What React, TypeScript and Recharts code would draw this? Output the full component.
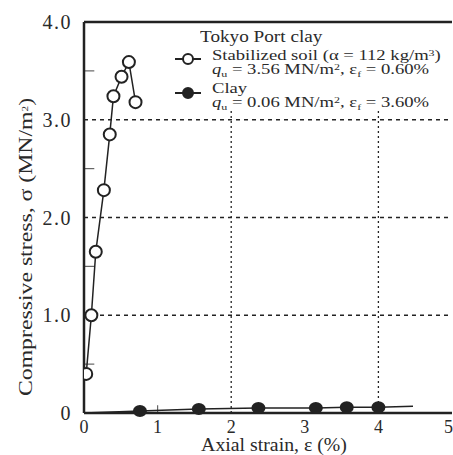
import { LineChart, Line, XAxis, YAxis, CartesianGrid, ReferenceLine } from "recharts";

// Stabilized soil (open circles)
const soilStrain = [0.03, 0.1, 0.16, 0.27, 0.35, 0.4, 0.51, 0.61, 0.7];
const soilStress = [0.4, 1.0, 1.65, 2.28, 2.85, 3.24, 3.44, 3.59, 3.18];

// Clay (filled circles); first and last points are line ends, no marker
const clayStrain = [0.0, 0.76, 1.56, 2.37, 3.15, 3.57, 4.0, 4.47];
const clayStress = [0.0, 0.02, 0.04, 0.05, 0.05, 0.06, 0.06, 0.07];

const xTicks = [0, 1, 2, 3, 4, 5];
const yTicks = [0, 1, 2, 3, 4];
const minorY = [0.5, 1.5, 2.5, 3.5];

const soilData = soilStrain.map((x, i) => ({ x, y: soilStress[i] }));
const clayData = clayStrain.map((x, i) => ({ x, y: clayStress[i] }));

const INK = "#222";
const TXT = "#2a2a2a";
const FONT = "'Liberation Serif', 'DejaVu Serif', serif";

const OpenDot = (p: any) => (
  <circle key={`o-${p.index}`} cx={p.cx} cy={p.cy} r={6} fill="#fff" stroke={INK} strokeWidth={2} />
);

const FilledDot = (p: any) =>
  p.index === 0 || p.index === clayData.length - 1 ? (
    <g key={`f-${p.index}`} />
  ) : (
    <ellipse key={`f-${p.index}`} cx={p.cx} cy={p.cy} rx={7} ry={6} fill={INK} />
  );

const LegendSymbol = ({ filled }: { filled: boolean }) => (
  <svg width={28} height={14} style={{ display: "block" }}>
    <line x1={1} y1={7} x2={27} y2={7} stroke={INK} strokeWidth={2} />
    <circle cx={14} cy={7} r={5} fill={filled ? INK : "#fff"} stroke={INK} strokeWidth={2} />
  </svg>
);

// super/subscripts that do not stretch the line box
const Sup = ({ children }: { children: any }) => (
  <span style={{ fontSize: 9, position: "relative", top: -4, lineHeight: 0 }}>{children}</span>
);
const Sub = ({ children }: { children: any }) => (
  <span style={{ fontSize: 9, position: "relative", top: 3, lineHeight: 0 }}>{children}</span>
);

const legendText = {
  position: "absolute" as const,
  left: 212,
  fontSize: 14,
  lineHeight: "14px",
  color: TXT,
  whiteSpace: "nowrap" as const,
  transform: "scaleX(1.33)",
  transformOrigin: "left center",
};

export default function App() {
  return (
    <div style={{ position: "absolute", left: 0, top: 0, width: 453, height: 455, background: "#fff", fontFamily: FONT, overflow: "hidden" }}>
      <LineChart width={453} height={455} margin={{ top: 22, right: 1, left: 0, bottom: 0 }}>
        <CartesianGrid horizontal={false} vertical={false} />
        <XAxis
          type="number"
          dataKey="x"
          domain={[0, 5]}
          ticks={xTicks}
          height={42}
          axisLine={{ stroke: INK, strokeWidth: 2.5 }}
          tickLine={false}
          tick={{ fill: TXT, fontSize: 18, fontFamily: FONT }}
          tickMargin={1}
          allowDataOverflow
        />
        <YAxis
          type="number"
          dataKey="y"
          domain={[0, 4]}
          ticks={yTicks}
          width={84}
          axisLine={{ stroke: INK, strokeWidth: 2.5 }}
          tickLine={false}
          tick={{ fill: TXT, fontSize: 20, fontFamily: FONT, letterSpacing: 1.5 }}
          tickMargin={6}
          tickFormatter={(v: number) => (v === 0 ? "0" : v.toFixed(1))}
        />
        {[1, 2, 3].map((v) => (
          <ReferenceLine key={`h${v}`} y={v} stroke={INK} strokeWidth={1.3} strokeDasharray="4 4" />
        ))}
        {[2, 4].map((v) => (
          <ReferenceLine
            key={`v${v}`}
            segment={[{ x: v, y: 0 }, { x: v, y: 3.1 }]}
            stroke={INK}
            strokeWidth={1.3}
            strokeDasharray="2 3"
          />
        ))}
        {minorY.map((v) => (
          <ReferenceLine key={`m${v}`} segment={[{ x: 0, y: v }, { x: 0.14, y: v }]} stroke="#666" strokeWidth={1.2} />
        ))}
        <ReferenceLine segment={[{ x: 1, y: 0 }, { x: 1, y: 0.08 }]} stroke="#666" strokeWidth={1.2} />
        <ReferenceLine y={4} stroke={INK} strokeWidth={2.5} />
        <Line
          data={soilData}
          dataKey="y"
          type="linear"
          stroke={INK}
          strokeWidth={1.5}
          dot={OpenDot}
          isAnimationActive={false}
        />
        <Line
          data={clayData}
          dataKey="y"
          type="linear"
          stroke={INK}
          strokeWidth={1.5}
          dot={FilledDot}
          isAnimationActive={false}
        />
      </LineChart>

      {/* axis titles */}
      <div
        style={{
          position: "absolute",
          left: 274,
          top: 445,
          transform: "translate(-50%, -50%) scaleX(1.1)",
          fontSize: 18,
          lineHeight: "18px",
          color: TXT,
          whiteSpace: "nowrap",
        }}
      >
        Axial strain, ε (%)
      </div>
      <div
        style={{
          position: "absolute",
          left: 25,
          top: 247,
          transform: "translate(-50%, -50%) rotate(-90deg) scaleX(1.25)",
          fontSize: 19,
          lineHeight: "19px",
          color: TXT,
          whiteSpace: "nowrap",
        }}
      >
        Compressive stress, σ (MN/m<Sup>2</Sup>)
      </div>

      {/* legend */}
      <div
        style={{
          position: "absolute",
          left: 200,
          top: 28,
          fontSize: 16,
          lineHeight: "18px",
          color: TXT,
          whiteSpace: "nowrap",
          transform: "scaleX(1.2)",
          transformOrigin: "left center",
        }}
      >
        Tokyo Port clay
      </div>
      <div style={{ position: "absolute", left: 174, top: 52 }}>
        <LegendSymbol filled={false} />
      </div>
      <div style={{ ...legendText, top: 49 }}>
        <div>
          Stabilized soil (α = 112 kg/m<Sup>3</Sup>)
        </div>
        <div>
          <i>q</i>
          <Sub>u</Sub> = 3.56 MN/m<Sup>2</Sup>, ε<Sub>f</Sub> = 0.60%
        </div>
      </div>
      <div style={{ position: "absolute", left: 174, top: 86 }}>
        <LegendSymbol filled />
      </div>
      <div style={{ ...legendText, top: 82 }}>
        <div>Clay</div>
        <div>
          <i>q</i>
          <Sub>u</Sub> = 0.06 MN/m<Sup>2</Sup>, ε<Sub>f</Sub> = 3.60%
        </div>
      </div>
    </div>
  );
}
